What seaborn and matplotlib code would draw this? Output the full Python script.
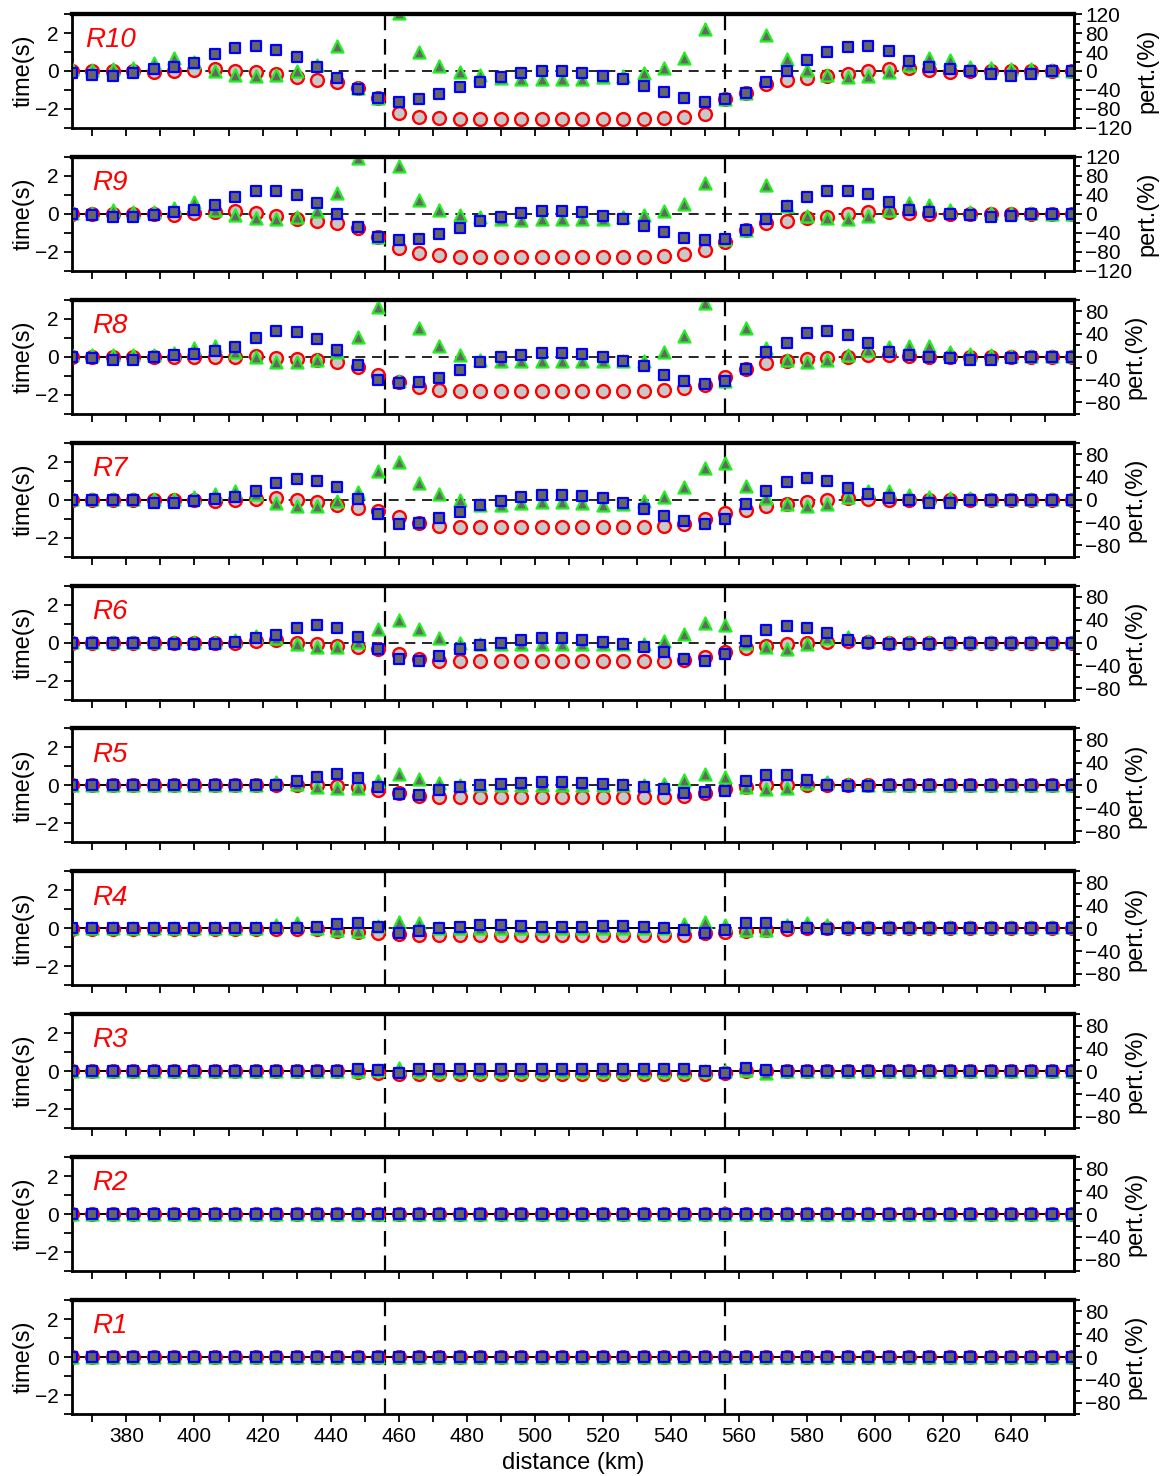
import matplotlib
matplotlib.use('Agg')
import matplotlib.pyplot as plt
import seaborn as sns
from matplotlib.ticker import MultipleLocator

sns.set_style('ticks')
plt.rcParams['font.family'] = ['Liberation Sans', 'DejaVu Sans']
plt.rcParams['axes.edgecolor'] = 'black'
plt.rcParams['xtick.color'] = 'black'
plt.rcParams['ytick.color'] = 'black'
plt.rcParams['text.color'] = 'black'
plt.rcParams['axes.labelcolor'] = 'black'

# station distances (km)
distance = [364, 370, 376, 382, 388, 394, 400, 406, 412, 418,
            424, 430, 436, 442, 448, 454, 460, 466, 472, 478,
            484, 490, 496, 502, 508, 514, 520, 526, 532, 538,
            544, 550, 556, 562, 568, 574, 580, 586, 592, 598,
            604, 610, 616, 622, 628, 634, 640, 646, 652, 658]

panel_names = ['R10', 'R9', 'R8', 'R7', 'R6', 'R5', 'R4', 'R3', 'R2', 'R1']
pert_limits = [120, 120, 100, 100, 100, 100, 100, 100, 100, 100]
boundaries = [456, 556]

# red circles (time, s)
r10_circ = [0, 0, 0, 0, -0.03, 0.02, 0.05, 0.1, 0, -0.05,
            -0.15, -0.33, -0.47, -0.6, -0.9, -1.4, -2.23, -2.4, -2.5, -2.55,
            -2.55, -2.55, -2.55, -2.55, -2.55, -2.55, -2.55, -2.55, -2.55, -2.5,
            -2.44, -2.28, -1.5, -1.18, -0.7, -0.47, -0.39, -0.26, -0.16, 0,
            0.1, 0.14, 0.05, -0.03, 0, 0, 0, 0, 0, 0]
r9_circ = [0, 0, 0, 0, 0, -0.05, 0.03, 0.09, 0.16, 0.03,
           -0.1, -0.26, -0.37, -0.49, -0.75, -1.23, -1.8, -2.04, -2.16, -2.25,
           -2.25, -2.25, -2.25, -2.25, -2.25, -2.25, -2.25, -2.25, -2.25, -2.21,
           -2.1, -1.9, -1.5, -0.84, -0.49, -0.37, -0.23, -0.14, 0, 0.12,
           0.12, 0.03, 0, 0, 0, 0, 0, 0, 0, 0]
r8_circ = [0, 0, 0, 0, 0, 0, 0, 0, 0, 0.02,
           -0.05, -0.1, -0.15, -0.3, -0.55, -0.95, -1.35, -1.6, -1.75, -1.8,
           -1.8, -1.8, -1.8, -1.8, -1.8, -1.8, -1.8, -1.8, -1.8, -1.75,
           -1.65, -1.5, -1.05, -0.65, -0.35, -0.2, -0.1, -0.05, 0, 0.1,
           0.1, 0.03, 0, 0, 0, 0, 0, 0, 0, 0]
r7_circ = [0, 0, 0, 0, 0, 0, 0, -0.05, 0, 0.05,
           0.07, 0, -0.1, -0.28, -0.46, -0.58, -0.93, -1.25, -1.39, -1.42,
           -1.42, -1.42, -1.42, -1.42, -1.42, -1.42, -1.42, -1.42, -1.42, -1.39,
           -1.28, -1.04, -0.72, -0.54, -0.33, -0.23, -0.1, 0, 0.07, 0.02,
           0, 0, 0, 0, 0, 0, 0, 0, 0, 0]
r6_circ = [0, 0, 0, 0, 0, 0, 0, 0, 0, 0.1,
           0.15, 0, -0.1, -0.2, -0.25, -0.35, -0.6, -0.85, -0.95, -0.95,
           -0.95, -0.95, -0.95, -0.95, -0.95, -0.95, -0.95, -0.95, -0.95, -0.95,
           -0.9, -0.75, -0.5, -0.3, -0.2, -0.1, 0, 0.05, 0.1, 0.05,
           0, 0, 0, 0, 0, 0, 0, 0, 0, 0]
r5_circ = [0, 0, 0, 0, 0, 0, 0, 0, 0, 0,
           0, 0, 0, -0.05, -0.1, -0.25, -0.4, -0.55, -0.6, -0.6,
           -0.6, -0.6, -0.6, -0.6, -0.6, -0.6, -0.6, -0.6, -0.6, -0.6,
           -0.55, -0.4, -0.2, -0.1, 0, 0.05, 0.05, 0, 0, 0,
           0, 0, 0, 0, 0, 0, 0, 0, 0, 0]
r4_circ = [-0.03, -0.03, -0.03, -0.03, -0.03, -0.03, -0.03, -0.03, -0.03, -0.03,
           -0.03, -0.03, -0.03, -0.14, -0.18, -0.26, -0.3, -0.33, -0.33, -0.33,
           -0.33, -0.33, -0.33, -0.33, -0.33, -0.33, -0.33, -0.33, -0.33, -0.33,
           -0.33, -0.23, -0.18, -0.14, -0.09, -0.05, 0, 0, 0, 0,
           0, 0, 0, 0, 0, 0, 0, 0, 0, 0]
r3_circ = [0, 0, 0, 0, 0, 0, 0, 0, 0, 0,
           0, 0, 0, 0, -0.05, -0.1, -0.15, -0.15, -0.15, -0.15,
           -0.15, -0.15, -0.15, -0.15, -0.15, -0.15, -0.15, -0.15, -0.15, -0.15,
           -0.15, -0.15, -0.1, 0, 0, 0, 0, 0, 0, 0,
           0, 0, 0, 0, 0, 0, 0, 0, 0, 0]
r2_circ = [0, 0, 0, 0, 0, 0, 0, 0, 0, 0,
           0, 0, 0, 0, 0, 0, 0, 0, 0, 0,
           0, 0, 0, 0, 0, 0, 0, 0, 0, 0,
           0, 0, 0, 0, 0, 0, 0, 0, 0, 0,
           0, 0, 0, 0, 0, 0, 0, 0, 0, 0]
r1_circ = [0, 0, 0, 0, 0, 0, 0, 0, 0, 0,
           0, 0, 0, 0, 0, 0, 0, 0, 0, 0,
           0, 0, 0, 0, 0, 0, 0, 0, 0, 0,
           0, 0, 0, 0, 0, 0, 0, 0, 0, 0,
           0, 0, 0, 0, 0, 0, 0, 0, 0, 0]

# green triangles
r10_tri = [0.09, 0.05, 0.09, 0.18, 0.44, 0.67, 0.49, 0.02, -0.2, -0.26,
           -0.2, 0.02, 0.32, 1.33, -0.9, -1.4, 3.05, 1.02, 0.26, -0.04,
           -0.2, -0.39, -0.42, -0.42, -0.42, -0.42, -0.33, -0.26, -0.09, 0.14,
           0.67, 2.19, -1.49, -1.18, 1.89, 0.61, 0.05, -0.2, -0.3, -0.26,
           -0.04, 0.32, 0.67, 0.58, 0.23, 0.14, 0.09, 0.09, 0.05, 0]
r9_tri = [0.07, 0.07, 0.18, 0.12, 0.12, 0.33, 0.6, 0.2, -0.05, -0.23,
          -0.28, -0.18, 0.16, 1.09, 2.93, -1.23, 2.53, 0.74, 0.21, -0.05,
          -0.18, -0.28, -0.32, -0.28, -0.28, -0.28, -0.28, -0.18, -0.05, 0.16,
          0.53, 1.65, -1.3, -0.84, 1.53, 0.42, -0.1, -0.23, -0.28, -0.1,
          0.21, 0.56, 0.47, 0.21, 0.12, 0.07, 0.05, 0.03, 0, 0]
r8_tri = [0.08, 0.08, 0.08, 0.08, 0.08, 0.2, 0.45, 0.55, 0.25, 0,
          -0.25, -0.25, -0.15, 0.25, 1.05, 2.6, -1.3, 1.5, 0.55, 0.1,
          -0.15, -0.2, -0.2, -0.2, -0.2, -0.2, -0.2, -0.2, -0.2, 0.25,
          1.1, 2.85, -1.3, 1.5, 0.45, -0.15, -0.25, -0.15, 0.1, 0.35,
          0.5, 0.55, 0.55, 0.25, 0.15, 0.1, 0.05, 0.03, 0.03, 0.03]
r7_tri = [0.04, 0.04, 0.04, 0.04, 0.04, 0.04, 0.16, 0.3, 0.46, 0.3,
          -0.16, -0.33, -0.33, -0.05, 0.42, 1.5, 2.0, 0.89, 0.3, 0,
          -0.28, -0.28, -0.19, -0.1, -0.1, -0.16, -0.28, -0.23, -0.05, 0.16,
          0.65, 1.65, 1.95, 0.72, 0.07, -0.23, -0.33, -0.23, 0.16, 0.47,
          0.47, 0.25, 0.16, 0.1, 0.07, 0.04, 0.04, 0.04, 0.04, 0.04]
r6_tri = [0.05, 0.05, 0.05, 0.05, 0.05, 0.05, 0.05, 0.05, 0.15, 0.35,
          0.25, -0.1, -0.25, -0.25, 0.05, 0.7, 1.2, 0.7, 0.25, 0,
          -0.1, -0.05, -0.05, -0.05, -0.05, -0.05, -0.05, -0.05, -0.05, 0.1,
          0.45, 1.05, 0.95, 0, -0.25, -0.35, -0.1, 0.25, 0.3, 0.1,
          0.05, 0.03, 0.03, 0.03, 0.03, 0.03, 0.03, 0.03, 0.03, 0.03]
r5_tri = [0.04, 0.04, 0.04, 0.04, 0.04, 0.04, 0.04, 0.04, 0.04, 0.04,
          0.2, 0.1, -0.1, -0.15, -0.15, 0.25, 0.6, 0.35, 0.15, 0,
          0, 0, 0, 0, 0, 0, 0, 0, 0, 0.1,
          0.3, 0.6, 0.45, -0.1, -0.2, -0.15, 0.15, 0.2, 0.1, 0.03,
          0.03, 0.03, 0.03, 0.03, 0.03, 0.03, 0.03, 0.03, 0.03, 0.03]
r4_tri = [0.03, 0.03, 0.03, 0.03, 0.03, 0.03, 0.03, 0.03, 0.03, 0.03,
          0.18, 0.26, 0.03, -0.09, -0.12, 0.1, 0.35, 0.26, 0.03, 0,
          0, 0, 0, 0, 0, 0, 0, 0, 0, 0,
          0.23, 0.35, 0.18, -0.09, -0.09, 0.18, 0.26, 0.18, 0.05, 0.05,
          0.05, 0.05, 0.05, 0.05, 0.05, 0.05, 0.05, 0.05, 0.05, 0.05]
r3_tri = [0.02, 0.02, 0.02, 0.02, 0.02, 0.02, 0.02, 0.02, 0.02, 0.02,
          0.02, 0.02, 0.02, 0.02, 0.02, 0.05, 0.15, 0.02, 0.02, 0.02,
          0.02, 0.02, 0.02, 0.02, 0.02, 0.02, 0.02, 0.02, 0.02, 0.02,
          0.02, 0.02, 0.02, 0.05, -0.1, 0.02, 0.02, 0.02, 0.02, 0.02,
          0.02, 0.02, 0.02, 0.02, 0.02, 0.02, 0.02, 0.02, 0.02, 0.02]
r2_tri = [0, 0, 0, 0, 0, 0, 0, 0, 0, 0,
          0, 0, 0, 0, 0, 0, 0, 0, 0, 0,
          0, 0, 0, 0, 0, 0, 0, 0, 0, 0,
          0, 0, 0, 0, 0, 0, 0, 0, 0, 0,
          0, 0, 0, 0, 0, 0, 0, 0, 0, 0]
r1_tri = [0, 0, 0, 0, 0, 0, 0, 0, 0, 0,
          0, 0, 0, 0, 0, 0, 0, 0, 0, 0,
          0, 0, 0, 0, 0, 0, 0, 0, 0, 0,
          0, 0, 0, 0, 0, 0, 0, 0, 0, 0,
          0, 0, 0, 0, 0, 0, 0, 0, 0, 0]

# blue squares
r10_sq = [-0.12, -0.2, -0.26, -0.09, 0.09, 0.19, 0.44, 0.9, 1.23, 1.32,
          1.1, 0.72, 0.23, -0.39, -0.96, -1.44, -1.61, -1.49, -1.21, -0.86,
          -0.56, -0.3, -0.12, 0, 0.02, -0.09, -0.26, -0.44, -0.77, -1.09,
          -1.44, -1.61, -1.49, -1.18, -0.56, 0.02, 0.58, 1.02, 1.28, 1.32,
          1.05, 0.54, 0.23, 0.1, 0, -0.18, -0.26, -0.16, 0, 0]
r9_sq = [0, -0.05, -0.18, -0.19, -0.05, 0.12, 0.21, 0.47, 0.91, 1.21,
         1.23, 1.0, 0.56, 0, -0.67, -1.23, -1.4, -1.33, -1.05, -0.72,
         -0.4, -0.14, 0.04, 0.16, 0.16, 0.09, -0.1, -0.28, -0.63, -0.95,
         -1.25, -1.4, -1.3, -0.84, -0.26, 0.39, 0.88, 1.18, 1.23, 1.04,
         0.6, 0.21, 0.12, 0, -0.05, -0.18, -0.1, 0, 0, 0]
r8_sq = [0, -0.05, -0.15, -0.15, 0, 0.1, 0.15, 0.3, 0.5, 1.0,
         1.35, 1.3, 0.95, 0.35, -0.45, -1.2, -1.4, -1.35, -1.1, -0.7,
         -0.25, 0, 0.1, 0.2, 0.2, 0.15, 0, -0.2, -0.5, -0.95,
         -1.25, -1.45, -1.3, -0.65, 0.25, 0.75, 1.25, 1.35, 1.15, 0.7,
         0.25, 0.1, 0, -0.05, -0.15, -0.15, -0.05, 0, 0, 0]
r7_sq = [0, 0, 0, 0, -0.16, -0.16, -0.07, 0.04, 0.16, 0.47,
         0.89, 1.09, 1.0, 0.65, 0.02, -0.75, -1.28, -1.21, -0.98, -0.63,
         -0.28, -0.05, 0.16, 0.25, 0.25, 0.19, 0.07, -0.19, -0.51, -0.86,
         -1.12, -1.3, -1.02, -0.23, 0.46, 0.91, 1.12, 1.0, 0.63, 0.28,
         0.07, 0, -0.16, -0.19, 0, 0, 0, 0, 0, 0]
r6_sq = [0, 0, 0, 0, 0, -0.1, -0.1, -0.05, 0.05, 0.25,
         0.4, 0.75, 0.9, 0.75, 0.3, -0.35, -0.85, -0.95, -0.7, -0.35,
         -0.15, 0, 0.15, 0.25, 0.25, 0.15, 0.05, -0.1, -0.25, -0.5,
         -0.85, -0.95, -0.6, 0.1, 0.65, 0.85, 0.75, 0.5, 0.15, 0,
         -0.05, -0.1, -0.05, 0, 0, 0, 0, 0, 0, 0]
r5_sq = [0, 0, 0, 0, 0, 0, 0, 0, 0, 0,
         0.05, 0.25, 0.45, 0.6, 0.4, -0.1, -0.45, -0.5, -0.25, -0.1,
         0.05, 0.1, 0.15, 0.2, 0.2, 0.15, 0.1, 0.05, -0.1, -0.2,
         -0.4, -0.35, -0.3, 0.25, 0.55, 0.55, 0.3, 0.05, -0.05, -0.05,
         0, 0, 0, 0, 0, 0, 0, 0, 0, 0]
r4_sq = [0, 0, 0, 0, 0, 0, 0, 0, 0, 0,
         0, 0, 0.09, 0.23, 0.3, 0.09, -0.23, -0.12, 0, 0.09,
         0.18, 0.18, 0.12, 0.09, 0.09, 0.09, 0.14, 0.14, 0.09, 0.03,
         -0.09, -0.26, -0.09, 0.26, 0.3, 0.09, 0, -0.03, 0, 0,
         0, 0, 0, 0, 0, 0, 0, 0, 0, 0]
r3_sq = [0, 0, 0, 0, 0, 0, 0, 0, 0, 0,
         0, 0, 0, 0, 0.1, 0.05, -0.1, 0.1, 0.1, 0.1,
         0.1, 0.1, 0.1, 0.1, 0.1, 0.1, 0.1, 0.1, 0.1, 0.1,
         0.1, 0, -0.1, 0.15, 0.05, 0, 0, 0, 0, 0,
         0, 0, 0, 0, 0, 0, 0, 0, 0, 0]
r2_sq = [0, 0, 0, 0, 0, 0, 0, 0, 0, 0,
         0, 0, 0, 0, 0, 0, 0, 0, 0, 0,
         0, 0, 0, 0, 0, 0, 0, 0, 0, 0,
         0, 0, 0, 0, 0, 0, 0, 0, 0, 0,
         0, 0, 0, 0, 0, 0, 0, 0, 0, 0]
r1_sq = [0, 0, 0, 0, 0, 0, 0, 0, 0, 0,
         0, 0, 0, 0, 0, 0, 0, 0, 0, 0,
         0, 0, 0, 0, 0, 0, 0, 0, 0, 0,
         0, 0, 0, 0, 0, 0, 0, 0, 0, 0,
         0, 0, 0, 0, 0, 0, 0, 0, 0, 0]

# x-ranges where the zero line is drawn solid
solid_zero = [[(364, 400), (616, 658)],
              [(364, 400), (640, 658)],
              [(364, 412), (610, 658)],
              [(364, 421), (590, 658)],
              [(364, 430), (580, 658)],
              [(364, 440), (570, 658)],
              [(364, 456), (470, 546), (560, 658)],
              [(364, 658)],
              [(364, 658)],
              [(364, 658)]]

circles = [r10_circ, r9_circ, r8_circ, r7_circ, r6_circ, r5_circ, r4_circ, r3_circ, r2_circ, r1_circ]
triangles = [r10_tri, r9_tri, r8_tri, r7_tri, r6_tri, r5_tri, r4_tri, r3_tri, r2_tri, r1_tri]
squares = [r10_sq, r9_sq, r8_sq, r7_sq, r6_sq, r5_sq, r4_sq, r3_sq, r2_sq, r1_sq]

fig, axes = plt.subplots(10, 1, figsize=(11.63, 14.76), dpi=100, sharex=True)
fig.subplots_adjust(left=0.0619, right=0.9235, top=0.9905, bottom=0.042, hspace=0.254)

for i, ax in enumerate(axes):
    ax.axhline(0, color='k', lw=1.2, ls=(0, (6, 4)), zorder=1)
    for a, b in solid_zero[i]:
        ax.plot([a, b], [0, 0], color='k', lw=1.4, zorder=1)
    for xb in boundaries:
        ax.axvline(xb, color='k', lw=1.6, ls=(0, (7, 4)), zorder=1)

    sns.scatterplot(x=distance, y=circles[i], ax=ax, marker='o', s=85,
                    color='#c8c8c8', edgecolor='#ff0000', linewidth=1.7, zorder=3)
    sns.scatterplot(x=distance, y=triangles[i], ax=ax, marker='^', s=75,
                    color='#666666', edgecolor='#22ee22', linewidth=1.6, zorder=4)
    sns.scatterplot(x=distance, y=squares[i], ax=ax, marker='s', s=50,
                    color='#666666', edgecolor='#0000ff', linewidth=1.6, zorder=5)

    ax.set_xlim(364, 658.5)
    ax.set_ylim(-3, 3)
    ax.yaxis.set_major_locator(MultipleLocator(2))
    ax.yaxis.set_minor_locator(MultipleLocator(1))
    ax.xaxis.set_major_locator(MultipleLocator(20))
    ax.xaxis.set_minor_locator(MultipleLocator(10))
    ax.tick_params(axis='both', which='major', direction='out', length=6, width=1.3, labelsize=15)
    ax.tick_params(axis='both', which='minor', direction='out', length=6, width=1.3)
    ax.set_ylabel('time(s)', fontsize=17, labelpad=0)
    for side in ['left', 'right', 'bottom']:
        ax.spines[side].set_linewidth(2)
    ax.spines['top'].set_linewidth(3)

    ax.text(0.038, 0.77, panel_names[i], transform=ax.transAxes, ha='center', va='center',
            color='#ff0000', fontsize=20, fontstyle='italic')

    tw = ax.twinx()
    lim = pert_limits[i]
    tw.set_ylim(-lim, lim)
    tw.yaxis.set_major_locator(MultipleLocator(40))
    tw.yaxis.set_minor_locator(MultipleLocator(20))
    tw.tick_params(axis='y', which='major', direction='out', length=6, width=1.3, labelsize=15, pad=2)
    tw.tick_params(axis='y', which='minor', direction='out', length=4, width=1.3)
    tw.set_ylabel('pert.(%)', fontsize=17, labelpad=3)
    tw.spines['right'].set_linewidth(2)
    tw.spines['top'].set_linewidth(3)

axes[-1].set_xlabel('distance (km)', fontsize=17, labelpad=4)

fig.savefig('out.png', dpi=100)
